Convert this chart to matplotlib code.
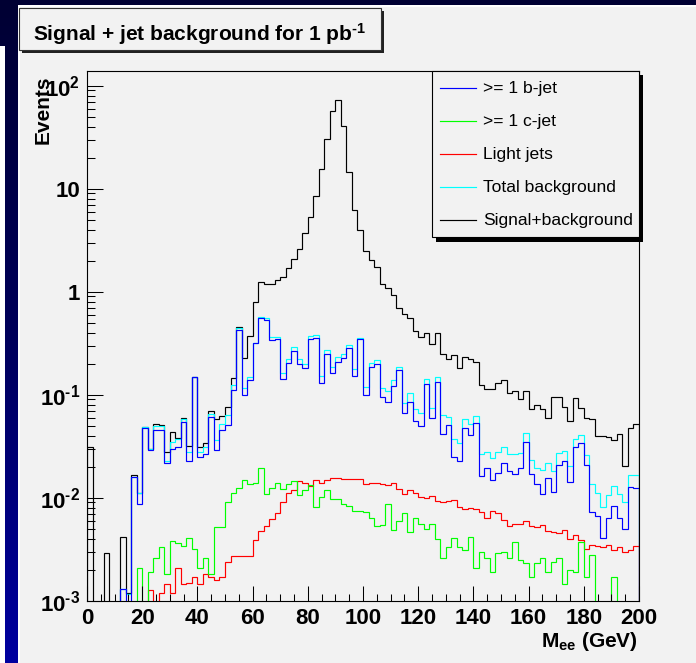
import numpy as np
import matplotlib
matplotlib.use('Agg')
import matplotlib.pyplot as plt
from matplotlib.patches import Rectangle
from matplotlib.lines import Line2D
from matplotlib.ticker import LogLocator, MultipleLocator, NullFormatter

plt.rcParams['font.family'] = ['Liberation Sans', 'DejaVu Sans']
plt.rcParams['mathtext.fontset'] = 'custom'
plt.rcParams['mathtext.rm'] = 'Liberation Sans'
plt.rcParams['mathtext.bf'] = 'Liberation Sans:bold'
plt.rcParams['mathtext.fallback'] = 'cm'

# 100 bins of 2 GeV, M_ee from 0 to 200 GeV
edges = np.linspace(0, 200, 101)

b_jet = [0, 0, 0, 0, 0, 0, 0.0013, 0, 0.016, 0.0087,
         0.048, 0.029, 0.045, 0.045, 0.0216, 0.030, 0.031, 0.054, 0.0229, 0.148,
         0.025, 0.0266, 0.0612, 0.029, 0.0454, 0.0508, 0.111, 0.425, 0.099, 0.139,
         0.315, 0.551, 0.531, 0.34, 0.347, 0.142, 0.202, 0.267, 0.2, 0.182,
         0.347, 0.357, 0.131, 0.246, 0.161, 0.21, 0.225, 0.282, 0.153, 0.345,
         0.1, 0.185, 0.2, 0.0945, 0.0855, 0.121, 0.174, 0.066, 0.0855, 0.0556,
         0.0497, 0.127, 0.0599, 0.133, 0.0415, 0.0508, 0.025, 0.0227, 0.047, 0.0406,
         0.0535, 0.0163, 0.0193, 0.0149, 0.0173, 0.0219, 0.018, 0.017, 0.0193, 0.0345,
         0.017, 0.0135, 0.0108, 0.0156, 0.0113, 0.0208, 0.0225, 0.0141, 0.0313, 0.034,
         0.021, 0.0073, 0.0066, 0.0041, 0.0064, 0.0083, 0.0064, 0.005, 0.0128, 0.0125]

c_jet = [0, 0, 0, 0, 0, 0, 0, 0, 0, 0.0021,
         0, 0.0019, 0.0026, 0.0033, 0.0018, 0.0038, 0.0036, 0.0034, 0.0041, 0.0032,
         0.0021, 0.0026, 0.0018, 0.0052, 0.0052, 0.0091, 0.011, 0.0123, 0.0149, 0.0135,
         0.014, 0.0193, 0.0108, 0.0123, 0.014, 0.0121, 0.0135, 0.0145, 0.0106, 0.012,
         0.0133, 0.0082, 0.0101, 0.0118, 0.0097, 0.0098, 0.0087, 0.0083, 0.0074, 0.0074,
         0.0072, 0.0063, 0.0053, 0.0054, 0.0087, 0.0049, 0.006, 0.0071, 0.0046, 0.0063,
         0.0056, 0.005, 0.0055, 0.004, 0.0026, 0.0033, 0.0041, 0.0033, 0.0031, 0.0042,
         0.0021, 0.003, 0.0026, 0.0019, 0.0029, 0.003, 0.0026, 0.0037, 0.0025, 0.0023,
         0.0017, 0.0023, 0.0026, 0.0019, 0.0024, 0.0026, 0.00145, 0.002, 0.0019, 0.0037,
         0.0017, 0.0028, 0, 0, 0, 0.0017, 0, 0, 0, 0]

light = [0, 0, 0, 0, 0, 0, 0, 0, 0, 0,
         0, 0.00127, 0, 0.0012, 0.00144, 0.0012, 0.0021, 0.00144, 0.0015, 0.00169,
         0.00145, 0.0018, 0.0017, 0.0016, 0.0017, 0.0024, 0.0027, 0.0027, 0.0027, 0.0027,
         0.0039, 0.0048, 0.0053, 0.0062, 0.0071, 0.0091, 0.0112, 0.0118, 0.0146, 0.014,
         0.0131, 0.015, 0.014, 0.015, 0.0156, 0.0155, 0.0153, 0.0151, 0.0152, 0.0151,
         0.0136, 0.0139, 0.0139, 0.0136, 0.0133, 0.0138, 0.0121, 0.0109, 0.0118, 0.0112,
         0.0102, 0.0099, 0.0104, 0.0093, 0.0091, 0.0093, 0.0094, 0.0082, 0.0077, 0.008,
         0.0077, 0.0072, 0.0063, 0.0075, 0.0071, 0.0061, 0.0053, 0.0055, 0.0055, 0.006,
         0.0053, 0.0052, 0.0054, 0.0048, 0.0046, 0.0045, 0.0049, 0.004, 0.0043, 0.0039,
         0.0032, 0.0035, 0.0034, 0.0033, 0.0035, 0.0031, 0.0033, 0.003, 0.0031, 0.0034]

total_bkg = [0, 0, 0, 0, 0, 0, 0.0013, 0.00116, 0.016, 0.0112,
             0.049, 0.0297, 0.0497, 0.05, 0.0225, 0.035, 0.0369, 0.058, 0.028, 0.149,
             0.028, 0.0313, 0.0645, 0.036, 0.052, 0.063, 0.124, 0.441, 0.115, 0.15,
             0.32, 0.572, 0.551, 0.366, 0.366, 0.164, 0.222, 0.288, 0.221, 0.197,
             0.371, 0.383, 0.152, 0.272, 0.187, 0.231, 0.247, 0.306, 0.176, 0.358,
             0.12, 0.205, 0.217, 0.115, 0.109, 0.139, 0.187, 0.0837, 0.105, 0.0732,
             0.0659, 0.141, 0.0748, 0.148, 0.0636, 0.0612, 0.0369, 0.0337, 0.058, 0.052,
             0.0625, 0.0264, 0.028, 0.0245, 0.0276, 0.031, 0.0266, 0.0266, 0.0274, 0.0427,
             0.0232, 0.0193, 0.0186, 0.0216, 0.0183, 0.0274, 0.0286, 0.0205, 0.0369, 0.041,
             0.026, 0.0135, 0.011, 0.0081, 0.0106, 0.013, 0.0109, 0.009, 0.0166, 0.0166]

sig_bkg = [0.031, 0, 0, 0.0029, 0, 0, 0.0042, 0.0012, 0.0165, 0.0112,
           0.049, 0.0297, 0.052, 0.0508, 0.0276, 0.0437, 0.0377, 0.059, 0.0318, 0.15,
           0.0313, 0.0337, 0.07, 0.058, 0.0625, 0.0766, 0.144, 0.45, 0.225, 0.37,
           0.79, 1.23, 1.2, 1.18, 1.3, 1.4, 1.69, 2.08, 2.58, 3.69,
           5.35, 8.55, 15.5, 30.4, 57.2, 72.6, 40.5, 14.4, 6.2, 3.97,
           2.5, 2.03, 1.75, 1.2, 1.08, 0.93, 0.7, 0.61, 0.56, 0.42,
           0.366, 0.4, 0.31, 0.395, 0.246, 0.222, 0.243, 0.183, 0.23, 0.221,
           0.209, 0.124, 0.113, 0.113, 0.131, 0.139, 0.105, 0.109, 0.091, 0.109,
           0.0726, 0.079, 0.072, 0.06, 0.095, 0.095, 0.076, 0.055, 0.092, 0.074,
           0.059, 0.058, 0.0397, 0.0397, 0.039, 0.0363, 0.042, 0.0205, 0.048, 0.0517]

labels = ['>= 1 b-jet', '>= 1 c-jet', 'Light jets', 'Total background', 'Signal+background']
colors = ['#0000ff', '#00ff00', '#ff0000', '#00ffff', '#000000']

W, H = 696, 663
BG = '#f2f2f2'
HY = '\u2010'  # short hyphen for exponents, like ROOT's "-"

fig = plt.figure(figsize=(W / 100, H / 100), dpi=100)
fig.patch.set_facecolor('white')


def rect(x0, y0, x1, y1, **kw):
    # rectangle in pixel coords (y down from top)
    return Rectangle((x0 / W, 1 - y1 / H), (x1 - x0) / W, (y1 - y0) / H,
                     transform=fig.transFigure, **kw)


# slide background: dark band on top, blue gradient strip on the left
fig.add_artist(rect(0, 0, W, 5, facecolor='#000033', edgecolor='none', zorder=-10))
gax = fig.add_axes([0, 0, 18 / W, 1], zorder=-9)
grad = np.linspace(0, 1, 256).reshape(-1, 1)
cmap = matplotlib.colors.LinearSegmentedColormap.from_list('slide', ['#000033', '#00005a', '#0000a0'])
gax.imshow(grad, aspect='auto', cmap=cmap, extent=[0, 1, 1, 0])
gax.axis('off')
fig.add_artist(rect(0, 46, 5, H, facecolor='white', edgecolor='none', zorder=-8))
fig.add_artist(rect(20, 7, W, H, facecolor=BG, edgecolor='none', zorder=-8))

ax = fig.add_axes([87 / W, 1 - 600.7 / H, (639 - 87) / W, (600.7 - 71) / H])
ax.set_facecolor(BG)
ax.set_yscale('log')
ax.set_xlim(0, 200)
ax.set_ylim(1e-3, 139)

series = [sig_bkg, total_bkg, light, c_jet, b_jet]
scol = [colors[4], colors[3], colors[2], colors[1], colors[0]]
for vals, c in zip(series, scol):
    v = np.array(vals, dtype=float)
    v = np.where(v > 0, v, 1e-6)
    ax.stairs(v, edges, baseline=1e-6, color=c, lw=0.85)

for s in ax.spines.values():
    s.set_linewidth(0.8)
    s.set_color('black')
    s.set_zorder(5)

ax.xaxis.set_major_locator(MultipleLocator(20))
ax.xaxis.set_minor_locator(MultipleLocator(5))
ax.set_yticks([1e-3, 1e-2, 1e-1, 1, 10, 100])
ax.set_yticklabels([r'$\mathbf{10^{%s3}}$' % HY, r'$\mathbf{10^{%s2}}$' % HY,
                    r'$\mathbf{10^{%s1}}$' % HY, '1', '10', r'$\mathbf{10^{2}}$'])
ax.yaxis.set_minor_locator(LogLocator(base=10, subs=np.arange(2, 10)))
ax.yaxis.set_minor_formatter(NullFormatter())
ax.tick_params(axis='x', which='major', direction='in', length=10.8, width=0.75,
               top=False, pad=5.5, labelsize=16)
ax.tick_params(axis='x', which='minor', direction='in', length=5, width=0.75, top=False)
ax.tick_params(axis='y', which='major', direction='in', length=11.5, width=0.75,
               right=False, pad=5, labelsize=16)
ax.tick_params(axis='y', which='minor', direction='in', length=5.8, width=0.75, right=False)
for t in ax.get_xticklabels() + ax.get_yticklabels():
    t.set_fontweight('bold')

# axis titles
fig.text(43 / W, 1 - 76 / H, 'Events', rotation=90, ha='center', va='top',
         fontsize=15, fontweight='bold')
fig.text(638 / W, 1 - 647 / H, r'$\mathbf{M_{ee}}$ (GeV)', ha='right', va='baseline',
         fontsize=15, fontweight='bold')

# title box with shadow
fig.add_artist(rect(22, 11, 384, 53, facecolor='#222222', edgecolor='none'))
fig.add_artist(rect(19, 8, 381, 50, facecolor=BG, edgecolor='#333333', lw=0.8))
fig.text(200 / W, 1 - 40.5 / H, r'Signal + jet background for 1 pb$\mathbf{^{%s1}}$' % HY,
         ha='center', va='baseline', fontsize=15, fontweight='bold')

# legend box with shadow
fig.add_artist(rect(436, 75, 643, 242, facecolor='black', edgecolor='none', zorder=6))
fig.add_artist(rect(432, 71, 639, 237, facecolor=BG, edgecolor='black', lw=0.8, zorder=7))
ys = [88.3, 121, 154.3, 187, 220.3]
for lab, c, yy in zip(labels, colors, ys):
    fig.add_artist(Line2D([440 / W, 476 / W], [1 - yy / H, 1 - yy / H],
                          transform=fig.transFigure, color=c, lw=0.85, zorder=8))
    fig.text(483 / W, 1 - (yy + 4.7) / H, lab, ha='left', va='baseline', fontsize=12.6,
             zorder=8)

fig.savefig('out.png', dpi=100, facecolor=fig.get_facecolor())
